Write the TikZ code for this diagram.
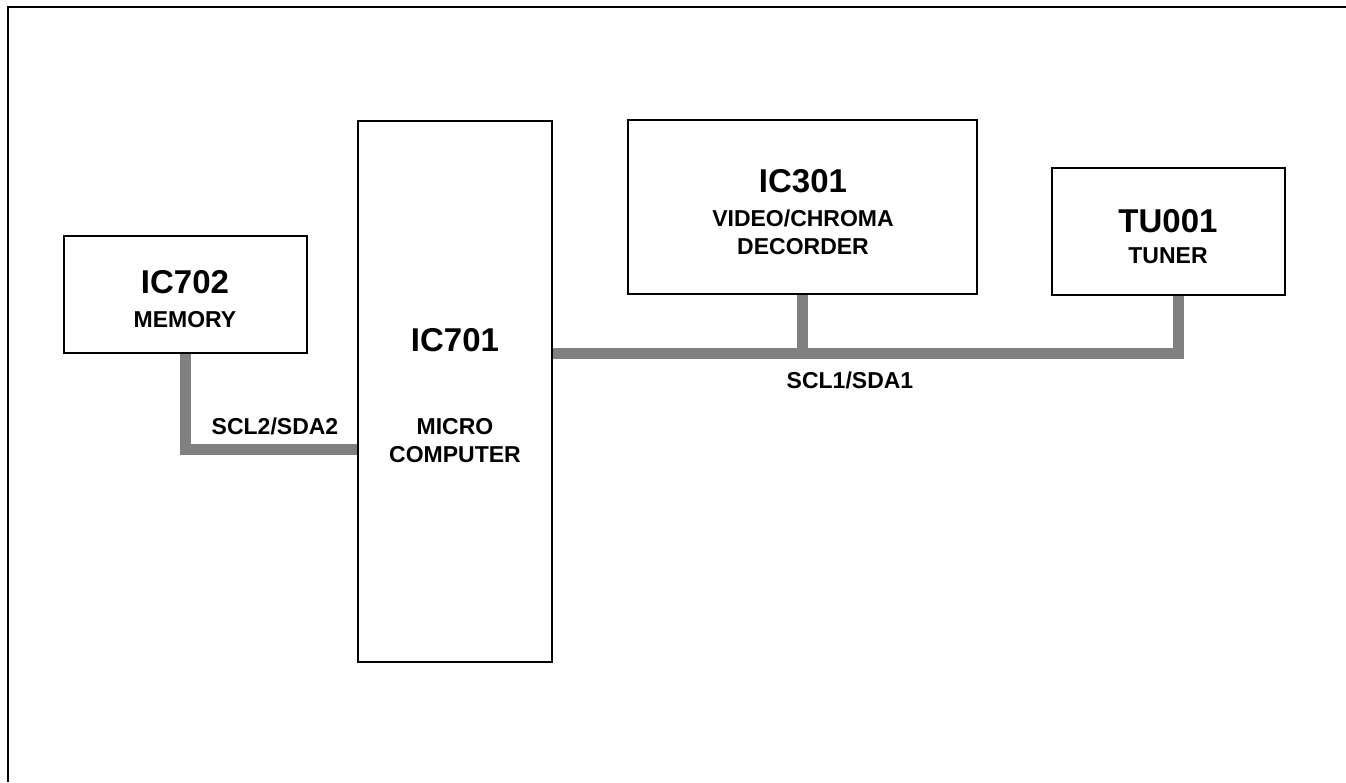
\documentclass[tikz,border=0pt]{standalone}
\usepackage{fontspec}
\setmainfont{Liberation Sans}
\begin{document}
\begin{tikzpicture}[x=1pt,y=-1pt,
  box/.style={draw=black,line width=2pt,fill=white,inner sep=0pt,rectangle},
  bus/.style={draw={rgb,255:red,128;green,128;blue,128},line width=11pt,line join=miter},
  big/.style={anchor=base,inner sep=0pt,font=\bfseries\fontsize{33}{33}\selectfont},
  small/.style={anchor=base,inner sep=0pt,font=\bfseries\fontsize{23}{23}\selectfont}]
\useasboundingbox (0,0) rectangle (1346,782);
% frame
\draw[line width=2pt] (1346,6.5) -- (7.5,6.5) -- (7.5,782);
% boxes
\node[box,minimum width=243pt,minimum height=117pt] (ic702) at (185.5,294.5) {};
\node[box,minimum width=194pt,minimum height=541pt] (ic701) at (455,391.5) {};
\node[box,minimum width=349pt,minimum height=174pt] (ic301) at (802.5,207) {};
\node[box,minimum width=233pt,minimum height=127pt] (tu001) at (1168.5,231.5) {};
% texts
\node[big] (t702) at (185,293) {IC702};
\node[small] (s702) at (185,327) {MEMORY};
\node[big] (t701) at (455,351) {IC701};
\node[small] (s701a) at (455,434) {MICRO};
\node[small] (s701b) at (455,462) {COMPUTER};
\node[big] (t301) at (803,192) {IC301};
\node[small] (s301a) at (803,226) {VIDEO/CHROMA};
\node[small] (s301b) at (803,254) {DECORDER};
\node[big] (t001) at (1168,232) {TU001};
\node[small] (s001) at (1168,263) {TUNER};
% bus coordinates
\coordinate (j2) at (357,449);
\coordinate (b1) at (553,353);
\coordinate (b2) at (1178,353);
\coordinate (v2) at (185,353);
% connectors
\draw[bus] (ic702.south -| v2) |- (ic701.west |- j2);
\draw[bus] (ic701.east |- b1) -- (b2) -- (b2 |- tu001.south);
\draw[bus] (ic301.south) -- (ic301.south |- b1);
% bus labels
\node[small] (l2) at (275,434) {SCL2/SDA2};
\node[small] (l1) at (850,388) {SCL1/SDA1};
\end{tikzpicture}
\end{document}
